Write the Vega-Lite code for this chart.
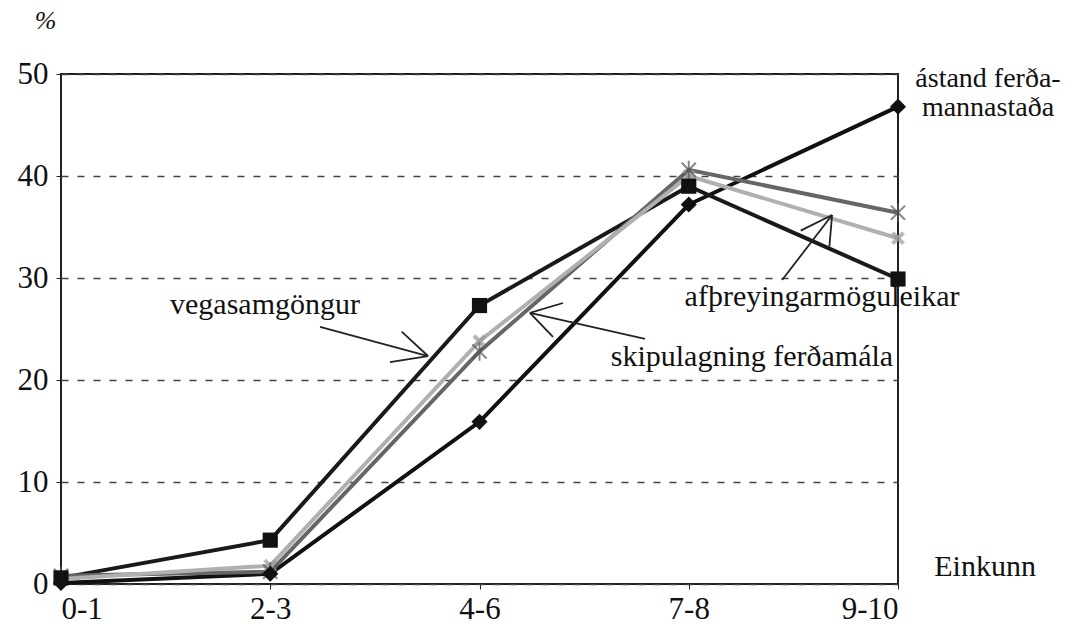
{
  "$schema": "https://vega.github.io/schema/vega-lite/v6.json",
  "autosize": {"type": "none"},
  "padding": {"left": 61, "top": 74, "right": 175, "bottom": 45},
  "width": 837,
  "height": 510,
  "background": "white",
  "config": {
    "view": {"stroke": "#222", "strokeWidth": 2},
    "font": "Liberation Serif",
    "axis": {"labelFont": "Liberation Serif", "titleFont": "Liberation Serif", "labelColor": "#111", "titleColor": "#111"}
  },
  "datasets": {
    "series": [
      {"Einkunn": "0-1", "i": 0, "series": "ástand ferðamannastaða", "value": 0.1},
      {"Einkunn": "2-3", "i": 1, "series": "ástand ferðamannastaða", "value": 1.0},
      {"Einkunn": "4-6", "i": 2, "series": "ástand ferðamannastaða", "value": 15.9},
      {"Einkunn": "7-8", "i": 3, "series": "ástand ferðamannastaða", "value": 37.2},
      {"Einkunn": "9-10", "i": 4, "series": "ástand ferðamannastaða", "value": 46.8},
      {"Einkunn": "0-1", "i": 0, "series": "vegasamgöngur", "value": 0.6},
      {"Einkunn": "2-3", "i": 1, "series": "vegasamgöngur", "value": 4.3},
      {"Einkunn": "4-6", "i": 2, "series": "vegasamgöngur", "value": 27.3},
      {"Einkunn": "7-8", "i": 3, "series": "vegasamgöngur", "value": 39.0},
      {"Einkunn": "9-10", "i": 4, "series": "vegasamgöngur", "value": 29.9},
      {"Einkunn": "0-1", "i": 0, "series": "skipulagning ferðamála", "value": 0.8},
      {"Einkunn": "2-3", "i": 1, "series": "skipulagning ferðamála", "value": 1.2},
      {"Einkunn": "4-6", "i": 2, "series": "skipulagning ferðamála", "value": 22.8},
      {"Einkunn": "7-8", "i": 3, "series": "skipulagning ferðamála", "value": 40.6},
      {"Einkunn": "9-10", "i": 4, "series": "skipulagning ferðamála", "value": 36.4},
      {"Einkunn": "0-1", "i": 0, "series": "afþreyingarmöguleikar", "value": 0.5},
      {"Einkunn": "2-3", "i": 1, "series": "afþreyingarmöguleikar", "value": 1.8},
      {"Einkunn": "4-6", "i": 2, "series": "afþreyingarmöguleikar", "value": 23.8},
      {"Einkunn": "7-8", "i": 3, "series": "afþreyingarmöguleikar", "value": 40.0},
      {"Einkunn": "9-10", "i": 4, "series": "afþreyingarmöguleikar", "value": 33.9}
    ],
    "labels": [
      {"i": 0.975, "v": 27.35, "text": "vegasamgöngur"},
      {"i": 3.302, "v": 22.25, "text": "skipulagning  ferðamála"},
      {"i": 3.637, "v": 28.14, "text": "afþreyingarmöguleikar"},
      {"i": 4.416, "v": 1.67, "text": "Einkunn"}
    ],
    "seriesLabel": [
      {"i": 4.43, "v": 49.5, "text": "ástand ferða-\nmannastaða"}
    ],
    "arrows": [
      {"i": 1.238, "v": 25.2, "i2": 1.754, "v2": 22.35},
      {"i": 1.628, "v": 24.74, "i2": 1.754, "v2": 22.35},
      {"i": 1.572, "v": 21.76, "i2": 1.754, "v2": 22.35},
      {"i": 2.791, "v": 24.02, "i2": 2.241, "v2": 26.57},
      {"i": 2.399, "v": 27.55, "i2": 2.241, "v2": 26.57},
      {"i": 2.351, "v": 24.22, "i2": 2.241, "v2": 26.57},
      {"i": 3.446, "v": 29.8, "i2": 3.685, "v2": 36.18},
      {"i": 3.535, "v": 34.64, "i2": 3.685, "v2": 36.18},
      {"i": 3.672, "v": 33.07, "i2": 3.685, "v2": 36.18}
    ]
  },
  "encoding": {
    "x": {
      "field": "i", "type": "quantitative",
      "scale": {"domain": [0, 4], "nice": false, "zero": false},
      "axis": {
        "title": null, "values": [0, 1, 2, 3, 4],
        "labelExpr": "['0-1','2-3','4-6','7-8','9-10'][datum.value]",
        "labelFontSize": 31, "labelPadding": 5, "tickSize": 5, "tickColor": "#222",
        "domain": false, "grid": false
      }
    },
    "y": {
      "field": "value", "type": "quantitative",
      "scale": {"domain": [0, 50], "nice": false},
      "axis": {
        "title": "%", "titleAngle": 0, "titleX": -16, "titleY": -54,
        "titleFontSize": 26, "titleFontStyle": "italic", "titleFontWeight": "normal",
        "titleAlign": "center", "titleBaseline": "middle",
        "values": [0, 10, 20, 30, 40, 50], "labelFontSize": 31, "labelPadding": 8,
        "tickSize": 5, "tickColor": "#222", "domain": false,
        "grid": true, "gridColor": "#444", "gridDash": [7, 9], "gridWidth": 1.5
      }
    }
  },
  "layer": [
    {
      "data": {"name": "series"},
      "mark": {"type": "line", "strokeWidth": 4},
      "encoding": {
        "color": {
          "field": "series", "type": "nominal", "legend": null,
          "scale": {
            "domain": ["ástand ferðamannastaða", "vegasamgöngur", "skipulagning ferðamála", "afþreyingarmöguleikar"],
            "range": ["#111111", "#1a1a1a", "#666666", "#b0b0b0"]
          }
        },
        "order": {"field": "i"}
      }
    },
    {
      "data": {"name": "series"},
      "transform": [{"filter": "datum.series === 'afþreyingarmöguleikar'"}],
      "mark": {"type": "point", "shape": "M-1,-1L1,1M1,-1L-1,1", "filled": false, "stroke": "#9a9a9a", "strokeWidth": 4, "size": 120},
      "encoding": {}
    },
    {
      "data": {"name": "series"},
      "transform": [{"filter": "datum.series === 'skipulagning ferðamála'"}],
      "mark": {"type": "point", "shape": "M-1,-1L1,1M1,-1L-1,1M0,-1.3L0,1.3", "filled": false, "stroke": "#555555", "strokeWidth": 2, "size": 200},
      "encoding": {}
    },
    {
      "data": {"name": "series"},
      "transform": [{"filter": "datum.series === 'ástand ferðamannastaða'"}],
      "mark": {"type": "point", "shape": "diamond", "filled": true, "color": "#111", "opacity": 1, "size": 260},
      "encoding": {}
    },
    {
      "data": {"name": "series"},
      "transform": [{"filter": "datum.series === 'vegasamgöngur'"}],
      "mark": {"type": "point", "shape": "square", "filled": true, "color": "#111", "opacity": 1, "size": 230},
      "encoding": {}
    },
    {
      "data": {"name": "arrows"},
      "mark": {"type": "rule", "color": "#222", "strokeWidth": 1.8},
      "encoding": {
        "y": {"field": "v", "type": "quantitative"},
        "x2": {"field": "i2"},
        "y2": {"field": "v2"}
      }
    },
    {
      "data": {"name": "labels"},
      "mark": {"type": "text", "fontSize": 30, "color": "#111", "align": "center", "baseline": "middle"},
      "encoding": {
        "y": {"field": "v", "type": "quantitative"},
        "text": {"field": "text"}
      }
    },
    {
      "data": {"name": "seriesLabel"},
      "mark": {"type": "text", "fontSize": 28, "color": "#111", "align": "center", "baseline": "middle", "lineBreak": "\n", "lineHeight": 29},
      "encoding": {
        "y": {"field": "v", "type": "quantitative"},
        "text": {"field": "text"}
      }
    }
  ]
}
